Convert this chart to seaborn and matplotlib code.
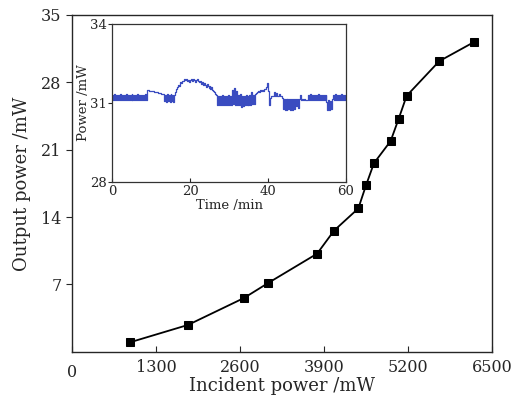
import numpy as np
import pandas as pd
import matplotlib.pyplot as plt
import seaborn as sns

# main curve: incident vs output power
incident_mw = [900, 1795, 2662, 3034, 3793, 4056, 4431, 4550, 4673,
               4931, 5055, 5179, 5684, 6226]
output_mw = [1.0, 2.8, 5.6, 7.15, 10.2, 12.6, 14.9, 17.3, 19.6,
             21.9, 24.2, 26.6, 30.2, 32.2]

# inset: output power stability over 60 min, one sample every 0.25 min
seg_a = [31.32, 31.10, 31.33, 31.11, 31.31, 31.10, 31.32, 31.12, 31.33, 31.10,
         31.31, 31.11, 31.32, 31.10, 31.33, 31.11, 31.32, 31.10, 31.31, 31.12,
         31.33, 31.10, 31.32, 31.11, 31.31, 31.10, 31.33, 31.11, 31.32, 31.10,
         31.31, 31.12, 31.32, 31.10, 31.33, 31.11]
seg_b = [31.49, 31.48, 31.47, 31.47, 31.46, 31.45, 31.44, 31.43, 31.42, 31.41,
         31.40, 31.39, 31.38, 31.37, 31.36, 31.35]
seg_c = [31.33, 31.06, 31.32, 31.05, 31.33, 31.07, 31.32, 31.05, 31.33, 31.06,
         31.32, 31.05, 31.30]
seg_d = [31.40, 31.55, 31.62, 31.70, 31.66, 31.78, 31.75, 31.85]
seg_e = [31.82, 31.90, 31.86, 31.92, 31.84, 31.88, 31.80, 31.87, 31.90, 31.83,
         31.91, 31.86, 31.80, 31.88, 31.92, 31.85, 31.78, 31.84]
seg_f = [31.72, 31.80, 31.68, 31.76, 31.70, 31.62, 31.72, 31.66, 31.58, 31.64,
         31.55, 31.60, 31.50, 31.45, 31.40, 31.33]
seg_g = [31.30, 30.94, 31.28, 30.93, 31.27, 30.92, 31.29, 30.94, 31.28, 30.93,
         31.27, 30.92, 31.30, 30.94, 31.28, 30.93, 31.50, 30.95, 31.58, 30.92,
         31.45, 30.93, 31.30, 30.94, 31.35, 30.86, 31.28, 30.90, 31.27, 30.93,
         31.29, 30.92, 31.28, 30.94, 31.30, 30.93, 31.40, 30.95, 31.32, 30.96,
         31.34, 31.38]
seg_h = [31.40, 31.44, 31.42, 31.48, 31.45, 31.50, 31.47, 31.55, 31.52, 31.62,
         31.75]
seg_i = [31.45, 30.92, 31.20, 31.28, 31.25]
seg_j = [31.28, 31.40, 31.27, 31.38, 31.26, 31.28, 31.35, 31.27, 31.25]
seg_k = [31.18, 30.78, 31.15, 30.75, 31.16, 30.73, 31.15, 30.76, 31.14, 30.74,
         31.16, 30.75, 31.15, 30.78, 31.14, 30.90, 31.15, 30.80]
seg_l = [31.15, 31.30, 31.12, 31.15, 31.10, 31.14, 31.12, 31.10, 31.12]
seg_m = [31.32, 31.10, 31.33, 31.11, 31.32, 31.10, 31.31, 31.12, 31.32, 31.10,
         31.33, 31.11, 31.32, 31.10, 31.31, 31.11, 31.32, 31.10, 31.30]
seg_n = [31.05, 30.75, 31.10, 30.74, 31.08, 30.76, 31.15]
seg_o = [31.32, 31.10, 31.33, 31.11, 31.31, 31.10, 31.32, 31.12, 31.33, 31.10,
         31.31, 31.11, 31.32, 31.30]

stab_power = (seg_a + seg_b + seg_c + seg_d + seg_e + seg_f + seg_g + seg_h
              + seg_i + seg_j + seg_k + seg_l + seg_m + seg_n + seg_o)
stab_time = np.arange(len(stab_power)) * 0.25

main_df = pd.DataFrame({'incident': incident_mw, 'output': output_mw})
stab_df = pd.DataFrame({'time': stab_time, 'power': stab_power})

sns.set_style('ticks')
plt.rcParams['font.family'] = ['DejaVu Serif']
plt.rcParams['axes.linewidth'] = 1.0

fig = plt.figure(figsize=(5.22, 4.04), dpi=100)
ax = fig.add_axes([0.138, 0.129, 0.8045, 0.834])

sns.lineplot(data=main_df, x='incident', y='output', ax=ax, color='black',
             marker='s', markersize=5.5, markeredgecolor='black', linewidth=1.3)
ax.set_xlim(0, 6500)
ax.set_ylim(0, 35)
ax.set_xticks([0, 1300, 2600, 3900, 5200, 6500])
ax.set_yticks([7, 14, 21, 28, 35])
ax.tick_params(axis='x', direction='in', length=4, labelsize=11.5, pad=5)
ax.tick_params(axis='y', direction='out', length=4, labelsize=11.5)
ax.set_xlabel('Incident power /mW', fontsize=13, labelpad=1)
ax.set_ylabel('Output power /mW', fontsize=13, labelpad=7)
ax.text(0, -0.035, '0', transform=ax.transAxes, ha='center', va='top', fontsize=11.5)
ax.set_xticklabels(['', '1300', '2600', '3900', '5200', '6500'])

# inset
ins = fig.add_axes([0.2146, 0.5495, 0.4482, 0.391])
sns.lineplot(data=stab_df, x='time', y='power', ax=ins, color='#3a4cc0',
             linewidth=0.9, drawstyle='steps-post')
for sp in ins.spines.values():
    sp.set_linewidth(0.9)
    sp.set_color('#333333')
ins.set_xlim(0, 60)
ins.set_ylim(28, 34)
ins.set_xticks([0, 20, 40, 60])
ins.set_yticks([28, 31, 34])
ins.tick_params(axis='x', direction='in', length=3, labelsize=9.5, pad=2)
ins.tick_params(axis='y', direction='out', length=3, labelsize=9.5, pad=1)
ins.set_xlabel('Time /min', fontsize=9.5, labelpad=1)
ins.set_ylabel('Power /mW', fontsize=9.5, labelpad=0)

fig.savefig('out.png', dpi=100)
